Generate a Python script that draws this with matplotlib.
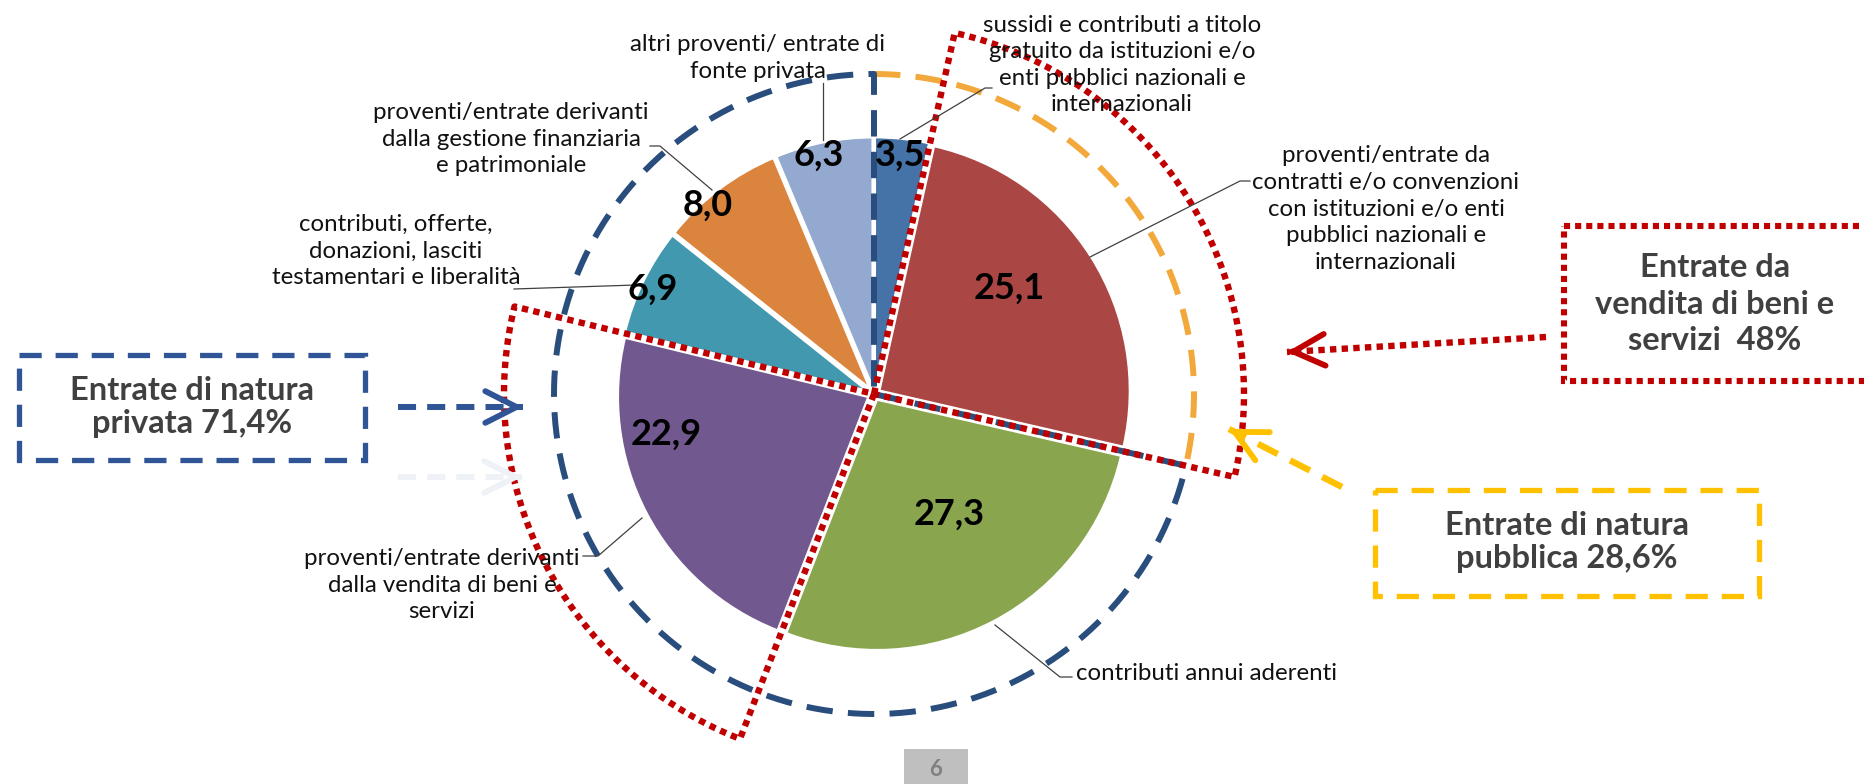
import numpy as np
import matplotlib.pyplot as plt
from matplotlib.patches import Rectangle

plt.rcParams['font.family'] = ['Lato', 'DejaVu Sans']
plt.rcParams['lines.scale_dashes'] = False

# data
values = [3.5, 25.1, 27.3, 22.9, 6.9, 8.0, 6.3]
value_labels = ['3,5', '25,1', '27,3', '22,9', '6,9', '8,0', '6,3']
categories = [
    'sussidi e contributi a titolo\ngratuito da istituzioni e/o\nenti pubblici nazionali e\ninternazionali',
    'proventi/entrate da\ncontratti e/o convenzioni\ncon istituzioni e/o enti\npubblici nazionali e\ninternazionali',
    'contributi annui aderenti',
    'proventi/entrate derivanti\ndalla vendita di beni e\nservizi',
    'contributi, offerte,\ndonazioni, lasciti\ntestamentari e liberalità',
    'proventi/entrate derivanti\ndalla gestione finanziaria\ne patrimoniale',
    'altri proventi/ entrate di\nfonte privata',
]
colors = ['#4572A7', '#AA4643', '#89A54E', '#71588F', '#4198AF', '#DB843D', '#93A9CF']
public_idx = [0, 1]
sales_idx = [1, 3]
page_number = '6'

# layout (pixel coordinates, y downwards)
W, H = 1865, 784
cx, cy = 874, 394
R_pie = 251
R_group = 320
R_sales = 370

value_xy = [(900, 155), (1009, 288), (949, 514), (666, 434), (653, 289), (708, 205), (819, 155)]
label_xy = [(1122, 65), (1386, 209), (1076, 674), (442, 585), (396, 251), (511, 139), (758, 58)]
label_ha = ['center', 'center', 'left', 'center', 'center', 'center', 'center']
leaders = [
    [(900, 139), (985, 88), (992, 88)],
    [(1090, 257), (1240, 181), (1250, 181)],
    [(995, 625), (1060, 677), (1072, 677)],
    [(642, 518), (598, 556), (583, 556)],
    [(636, 285), (514, 289)],
    [(712, 190), (660, 146), (650, 146)],
    [(823, 140), (823, 83)],
]

fig = plt.figure(figsize=(W / 100, H / 100), dpi=100)
ax = fig.add_axes([0, 0, 1, 1])

# explode is an offset in data units (pixels here)
ax.pie(values, colors=colors, startangle=-90, counterclock=True,
       radius=R_pie, center=(cx, cy), explode=[6] * len(values),
       wedgeprops=dict(edgecolor='white', linewidth=2))
ax.set_xlim(0, W)
ax.set_ylim(H, 0)
ax.set_aspect('equal')
ax.axis('off')

bounds = np.concatenate([[0], np.cumsum(values)]) / sum(values) * 360


def pt(r, a):
    a = np.radians(a)
    return cx + r * np.sin(a), cy - r * np.cos(a)


def arc(r, a0, a1, n=300):
    a = np.linspace(a0, a1, n)
    return pt(r, a)


def sector(r, a0, a1):
    x, y = arc(r, a0, a1)
    return np.r_[cx, x, cx], np.r_[cy, y, cy]


dotted = dict(color='#C00000', lw=4.6, dashes=(4.6, 3.8), dash_capstyle='butt', solid_joinstyle='round')
blue_dash = dict(color='#294D7C', lw=4.3, dashes=(19, 11), dash_capstyle='butt')
orange_dash = dict(color='#F2A83A', lw=4.3, dashes=(19, 11), dash_capstyle='butt')

# public share arc (orange) and private share outline (blue)
pub_end = bounds[public_idx[-1] + 1]
x, y = arc(R_group, 0, pub_end)
ax.plot(x, y, **orange_dash)
x, y = sector(R_group, pub_end, 360)
ax.plot(x, y, **blue_dash)

# sales outlines (red dotted)
for i in sales_idx:
    x, y = sector(R_sales, bounds[i], bounds[i + 1])
    ax.plot(x, y, **dotted)

# value labels
for (tx, ty), t in zip(value_xy, value_labels):
    ax.text(tx, ty, t, ha='center', va='center', fontsize=26, fontweight='bold', color='black')

# category labels and leader lines
for (tx, ty), t, ha, ld in zip(label_xy, categories, label_ha, leaders):
    ax.text(tx, ty, t, ha=ha, va='center', fontsize=17.3, color='#111111', linespacing=1.33)
    lx, ly = zip(*ld)
    ax.plot(lx, ly, color='#404040', lw=0.9)

# callout boxes
pub = sum(values[i] for i in public_idx)
priv = sum(values) - pub
sales = sum(values[i] for i in sales_idx)
fmt = lambda v: f'{v:.1f}'.replace('.', ',')

ax.add_patch(Rectangle((19, 355), 346, 105, fill=False, edgecolor='#2F5597',
                       lw=3.8, linestyle=(0, (16, 10)), capstyle='butt'))
ax.text(192, 407, f'Entrate di natura\nprivata {fmt(priv)}%', ha='center', va='center',
        fontsize=23.5, fontweight='bold', color='#404040', linespacing=1.15)

ax.add_patch(Rectangle((1564, 226), 330, 155, fill=False, edgecolor='#C00000',
                       lw=4.4, linestyle=(0, (4.4, 3.6)), capstyle='butt'))
ax.text(1715, 304, f'Entrate da\nvendita di beni e\nservizi  {sales:.0f}%', ha='center', va='center',
        fontsize=23.5, fontweight='bold', color='#404040', linespacing=1.3)

ax.add_patch(Rectangle((1375, 490), 384, 106, fill=False, edgecolor='#FFC000',
                       lw=3.8, linestyle=(0, (16, 10)), capstyle='butt'))
ax.text(1567, 542, f'Entrate di natura\npubblica {fmt(pub)}%', ha='center', va='center',
        fontsize=23.5, fontweight='bold', color='#404040', linespacing=1.15)


def arrow(tail, tip, color, line_kw):
    ax.plot([tail[0], tip[0]], [tail[1], tip[1]], **line_kw)
    d = np.subtract(tip, tail)
    d = d / np.hypot(*d)
    ax.annotate('', xy=tip, xytext=(tip[0] - d[0] * 6, tip[1] - d[1] * 6),
                arrowprops=dict(arrowstyle='->,head_length=0.75,head_width=0.38',
                                mutation_scale=30, color=color, lw=4.2,
                                shrinkA=0, shrinkB=0, capstyle='round'))


arrow((398, 407), (523, 407), '#2F5597',
      dict(color='#2F5597', lw=4.3, dashes=(13, 8), dash_capstyle='butt'))
arrow((398, 477), (522, 477), '#EEF1F6',
      dict(color='#EEF1F6', lw=4.3, dashes=(13, 8), dash_capstyle='butt'))
arrow((1546, 337), (1287, 352), '#C00000',
      dict(color='#C00000', lw=4.6, dashes=(4.6, 3.8), dash_capstyle='butt'))
arrow((1342, 487), (1229, 429), '#FFC000',
      dict(color='#FFC000', lw=4.6, dashes=(16, 10), dash_capstyle='butt'))

# page number
ax.add_patch(Rectangle((904, 749), 64, 40, facecolor='#BFBFBF', edgecolor='none'))
ax.text(936, 769, page_number, ha='center', va='center', fontsize=16,
        fontweight='bold', color='#808080')

fig.savefig('out.png', dpi=100)
